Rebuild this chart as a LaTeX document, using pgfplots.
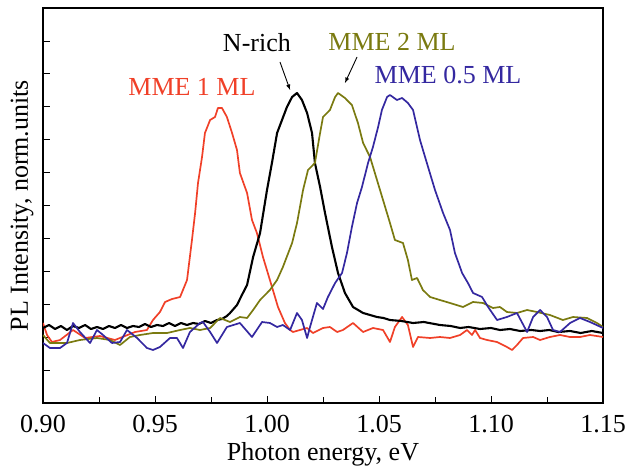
\documentclass[border=0pt]{standalone}
\usepackage{fontspec}
\setmainfont{Liberation Serif}
\usepackage{pgfplots}
\pgfplotsset{compat=1.18}

\definecolor{cred}{RGB}{240,64,40}
\definecolor{colive}{RGB}{122,122,16}
\definecolor{cblue}{RGB}{52,40,160}

\begin{document}
\fontsize{26}{30}\selectfont
\begin{tikzpicture}[font=\fontsize{26}{30}\selectfont]
\begin{axis}[
    scale only axis,
    width=560pt, height=395pt,
    xmin=0.9, xmax=1.15,
    ymin=0, ymax=395,
    xtick={0.90,0.95,...,1.151},
    minor x tick num=1,
    ytick={32.9,65.8,...,362},
    yticklabels={},
    tick pos=left,
    tick align=inside,
    major tick length=7pt,
    minor tick length=6pt,
    every tick/.style={black, line width=1pt},
    axis line style={line width=1.8pt},
    xticklabel style={yshift=-3pt, /pgf/number format/fixed, /pgf/number format/fixed zerofill, /pgf/number format/precision=2},
    /pgf/number format/assume math mode=true,
    ticklabel style={font=\fontsize{26}{30}\selectfont},
    label style={font=\fontsize{26}{30}\selectfont},
    xlabel={Photon energy, eV},
    ylabel={PL Intensity, norm.units},
    xlabel style={at={(axis description cs:0.5,-0.13)}, anchor=center},
    ylabel style={at={(axis description cs:-0.0375,0.5)}, anchor=center},
    every axis plot/.append style={line join=round},
    clip=true,
]

% MME 1 ML
\addplot[cred, line width=1.7pt] coordinates {
(0.9000,80)(0.9018,68)(0.9040,61)(0.9076,63)(0.9134,73)(0.9188,65)(0.9254,67)(0.9321,63)(0.9366,67)
(0.9411,71)(0.9464,73)(0.9491,83)(0.9522,91)(0.9545,101)(0.9576,104)(0.9612,106)(0.9643,123)
(0.9665,163)(0.9679,190)(0.9692,220)(0.9710,246)(0.9723,270)(0.9746,283)(0.9768,286)(0.9781,295)
(0.9799,295)(0.9821,286)(0.9844,270)(0.9866,253)(0.9879,230)(0.9911,210)(0.9933,183)(0.9955,170)
(0.9982,146)(1.0013,123)(1.0049,96)(1.0080,80)(1.0103,73)(1.0116,71)(1.0147,73)(1.0179,75)
(1.0205,70)(1.0250,75)(1.0281,76)(1.0313,71)(1.0339,73)(1.0384,80)(1.0429,71)(1.0473,75)
(1.0518,73)(1.0549,61)(1.0571,76)(1.0603,86)(1.0629,78)(1.0652,56)(1.0674,66)(1.0728,65)
(1.0772,66)(1.0817,65)(1.0862,68)(1.0893,73)(1.0915,68)(1.0929,73)(1.0951,65)(1.0982,63)
(1.1027,61)(1.1071,56)(1.1094,53)(1.1116,58)(1.1143,65)(1.1188,66)(1.1219,63)(1.1263,66)
(1.1308,68)(1.1353,66)(1.1397,66)(1.1442,68)(1.1500,66)
};

% N-rich
\addplot[black, line width=2.1pt] coordinates {
(0.9000,75)(0.9027,78)(0.9054,74)(0.9080,77)(0.9107,73)(0.9134,77)(0.9161,75)(0.9188,78)
(0.9214,74)(0.9241,76)(0.9268,74)(0.9295,77)(0.9321,75)(0.9348,78)(0.9375,75)(0.9402,77)
(0.9429,76)(0.9455,79)(0.9482,76)(0.9509,78)(0.9536,77)(0.9563,80)(0.9589,77)(0.9616,80)
(0.9643,78)(0.9670,80)(0.9696,79)(0.9723,82)(0.9750,80)(0.9777,83)(0.9799,84)(0.9821,87)
(0.9835,90)(0.9866,98)(0.9888,108)(0.9911,118)(0.9938,146)(0.9969,170)(1.0000,213)(1.0022,240)
(1.0045,270)(1.0067,283)(1.0089,296)(1.0112,306)(1.0134,310)(1.0156,303)(1.0179,290)(1.0201,270)
(1.0214,240)(1.0237,216)(1.0259,190)(1.0290,156)(1.0317,130)(1.0348,110)(1.0384,96)(1.0429,90)
(1.0460,88)(1.0491,86)(1.0520,85)(1.0549,83)(1.0600,82)(1.0652,80)(1.0700,81)(1.0772,78)
(1.0820,77)(1.0862,75)(1.0900,76)(1.0951,74)(1.1000,75)(1.1040,73)(1.1085,74)(1.1130,72)
(1.1180,73)(1.1219,72)(1.1260,73)(1.1300,71)(1.1353,72)(1.1400,70)(1.1450,72)(1.1500,70)
};

% MME 2 ML
\addplot[colive, line width=1.7pt] coordinates {
(0.9000,68)(0.9031,60)(0.9107,60)(0.9165,63)(0.9241,65)(0.9299,63)(0.9344,58)(0.9388,66)
(0.9433,68)(0.9491,70)(0.9554,70)(0.9612,73)(0.9656,75)(0.9701,73)(0.9746,75)(0.9790,85)
(0.9835,81)(0.9879,86)(0.9911,85)(0.9938,93)(0.9969,103)(1.0013,113)(1.0045,123)(1.0071,136)
(1.0112,160)(1.0134,180)(1.0161,213)(1.0183,233)(1.0214,240)(1.0237,270)(1.0250,286)(1.0281,293)
(1.0304,306)(1.0317,310)(1.0348,305)(1.0379,298)(1.0406,280)(1.0429,260)(1.0460,246)(1.0491,223)
(1.0518,203)(1.0549,180)(1.0571,163)(1.0607,160)(1.0629,143)(1.0647,123)(1.0670,125)(1.0696,113)
(1.0728,106)(1.0772,103)(1.0817,100)(1.0875,96)(1.0920,101)(1.0964,100)(1.1009,95)(1.1040,96)
(1.1071,91)(1.1116,90)(1.1161,93)(1.1205,91)(1.1263,88)(1.1321,83)(1.1366,86)(1.1429,85)
(1.1473,80)(1.1500,76)
};

% MME 0.5 ML
\addplot[cblue, line width=1.7pt] coordinates {
(0.9000,60)(0.9031,55)(0.9076,55)(0.9107,60)(0.9134,80)(0.9165,71)(0.9210,60)(0.9241,73)
(0.9268,68)(0.9308,60)(0.9344,61)(0.9375,73)(0.9420,65)(0.9464,55)(0.9491,53)(0.9522,56)
(0.9567,65)(0.9598,65)(0.9625,55)(0.9656,71)(0.9701,80)(0.9714,81)(0.9746,71)(0.9777,60)
(0.9821,76)(0.9879,80)(0.9933,66)(0.9978,81)(1.0013,80)(1.0045,76)(1.0071,78)(1.0103,73)
(1.0134,90)(1.0156,83)(1.0179,65)(1.0192,76)(1.0223,100)(1.0250,94)(1.0272,106)(1.0304,120)
(1.0335,130)(1.0357,150)(1.0379,176)(1.0402,200)(1.0424,216)(1.0451,240)(1.0473,256)(1.0496,276)
(1.0513,293)(1.0536,306)(1.0549,308)(1.0580,303)(1.0603,305)(1.0629,300)(1.0652,293)(1.0683,263)
(1.0719,236)(1.0750,213)(1.0786,190)(1.0817,173)(1.0839,150)(1.0871,130)(1.0897,120)(1.0920,110)
(1.0960,106)(1.0987,96)(1.1027,83)(1.1071,86)(1.1116,90)(1.1161,71)(1.1188,86)(1.1219,93)
(1.1250,86)(1.1277,73)(1.1308,71)(1.1353,80)(1.1397,85)(1.1442,81)(1.1500,75)
};

\node[cred] at (axis cs:0.9665,316) {MME 1 ML};
\node[black] at (axis cs:0.9955,360) {N-rich};
\node[colive] at (axis cs:1.0558,361) {MME 2 ML};
\node[cblue] at (axis cs:1.0808,328) {MME 0.5 ML};
\draw[-latex, line width=0.9pt] (axis cs:1.0058,341) -- (axis cs:1.0103,313);
\draw[-latex, line width=0.9pt] (axis cs:1.0402,346) -- (axis cs:1.0348,320);
\end{axis}
\pgfresetboundingbox
\useasboundingbox (-43pt,-65pt) rectangle (585pt,403pt);
\end{tikzpicture}
\end{document}
